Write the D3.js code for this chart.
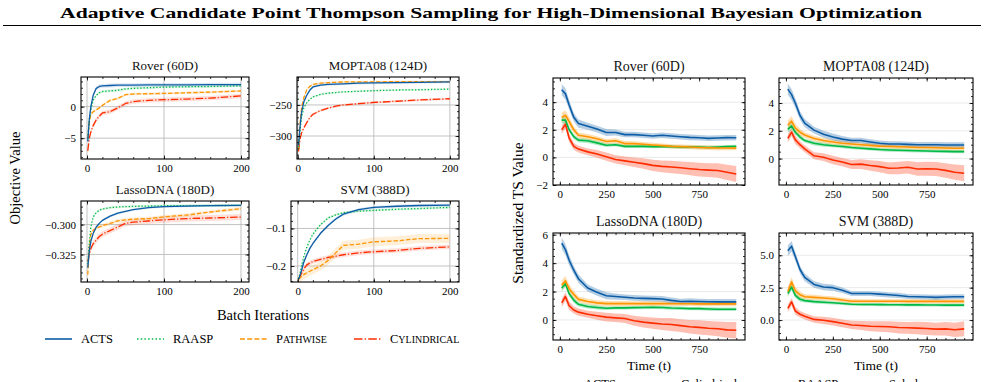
<!doctype html>
<html lang="en">
<head>
<meta charset="utf-8">
<title>Adaptive Candidate Point Thompson Sampling</title>
<script src="https://cdn.jsdelivr.net/npm/d3@7"></script>
<style>
    body { margin: 0; background: #fff; }
    svg, svg text { font-family: "Liberation Serif", "DejaVu Serif", serif; }
</style>
</head>
<body>
<svg></svg>
<script>
var width = 984, height = 382;

// ---- left block: objective value vs batch iterations ----
var leftIters = [1, 3, 5, 8, 12, 16, 20, 30, 40, 50, 60, 80, 100, 130, 160, 200];

var roverActs     = [-5.5, -2.0, 0.0, 1.8, 2.9, 3.2, 3.3, 3.35, 3.4, 3.4, 3.4, 3.45, 3.45, 3.45, 3.5, 3.5];
var roverRaasp    = [-5.0, -2.0, -0.5, 1.0, 1.8, 2.2, 2.4, 2.5, 2.6, 2.8, 2.9, 3.0, 3.1, 3.15, 3.2, 3.3];
var roverPathwise = [-5.0, -2.5, -1.2, -0.8, -0.5, -0.2, 0.2, 1.0, 1.3, 1.9, 2.0, 2.05, 2.1, 2.2, 2.3, 2.5];
var roverCyl      = [-7.0, -5.0, -4.0, -3.0, -2.1, -1.5, -1.0, -0.8, -0.2, 0.5, 0.8, 1.0, 1.1, 1.2, 1.35, 1.7];

var moptaActs     = [-315, -285, -262, -245, -234, -226, -221, -218, -217, -216.5, -216, -215, -214.5, -214, -213.5, -213];
var moptaRaasp    = [-318, -290, -270, -255, -246, -241, -237, -233, -231, -230, -229, -228, -227, -226, -225.5, -224.5];
var moptaPathwise = [-322, -280, -255, -238, -225, -220, -217, -215, -214, -213.5, -213, -213, -212.8, -212.6, -212.5, -212.5];
var moptaCyl      = [-325, -305, -295, -287, -278, -270, -265, -259, -255, -252, -250, -248, -246, -244, -242, -240];

var lassoActs     = [-0.336, -0.322, -0.314, -0.3075, -0.302, -0.299, -0.2965, -0.293, -0.2905, -0.289, -0.2875, -0.2858, -0.285, -0.2845, -0.2842, -0.284];
var lassoRaasp    = [-0.333, -0.315, -0.302, -0.2937, -0.290, -0.288, -0.287, -0.2858, -0.2853, -0.285, -0.2848, -0.2845, -0.2843, -0.2842, -0.2841, -0.284];
var lassoPathwise = [-0.342, -0.318, -0.308, -0.3048, -0.303, -0.302, -0.301, -0.299, -0.297, -0.296, -0.2955, -0.295, -0.2935, -0.292, -0.2895, -0.2867];
var lassoCyl      = [-0.331, -0.325, -0.320, -0.316, -0.313, -0.310, -0.308, -0.305, -0.302, -0.299, -0.298, -0.297, -0.296, -0.295, -0.2945, -0.2937];

var svmActs     = [-0.235, -0.225, -0.212, -0.19, -0.17, -0.153, -0.14, -0.113, -0.092, -0.075, -0.062, -0.05, -0.044, -0.041, -0.039, -0.038];
var svmRaasp    = [-0.235, -0.22, -0.2, -0.175, -0.15, -0.131, -0.115, -0.09, -0.072, -0.064, -0.058, -0.054, -0.052, -0.049, -0.047, -0.044];
var svmPathwise = [-0.235, -0.232, -0.228, -0.223, -0.218, -0.214, -0.21, -0.2, -0.185, -0.165, -0.145, -0.142, -0.1355, -0.133, -0.127, -0.1265];
var svmCyl      = [-0.235, -0.228, -0.22, -0.208, -0.197, -0.192, -0.188, -0.182, -0.177, -0.174, -0.17, -0.165, -0.162, -0.159, -0.153, -0.149];

// band half-widths per series (ACTS, RAASP, Pathwise, Cylindrical)
var roverBand = [0.3, 0.2, 0.2, 0.35];
var moptaBand = [2, 1.5, 1.5, 2];
var lassoBand = [0.001, 0.001, 0.0015, 0.0025];
var svmBand   = [0.004, 0.003, 0.012, 0.006];

// ---- right block: standardized TS value vs time ----
var rightTimes = [10, 30, 50, 75, 100, 150, 200, 250, 300, 350, 400, 450, 500, 550, 600, 650, 700, 750, 800, 850, 900, 950];

var rRoverActs  = [4.9, 4.6, 3.8, 2.9, 2.45, 2.25, 2.05, 1.8, 1.8, 1.65, 1.65, 1.6, 1.55, 1.6, 1.55, 1.5, 1.45, 1.42, 1.38, 1.4, 1.43, 1.42];
var rRoverCyl   = [2.0, 2.4, 1.4, 0.8, 0.6, 0.4, 0.25, 0.05, -0.15, -0.25, -0.35, -0.45, -0.58, -0.65, -0.7, -0.75, -0.82, -0.88, -0.92, -0.95, -1.08, -1.2];
var rRoverRaasp = [2.7, 2.7, 2.0, 1.5, 1.25, 1.2, 1.05, 0.88, 0.92, 0.8, 0.8, 0.8, 0.78, 0.8, 0.78, 0.75, 0.75, 0.75, 0.72, 0.75, 0.78, 0.8];
var rRoverSobol = [2.9, 3.05, 2.6, 2.0, 1.6, 1.5, 1.35, 1.15, 1.2, 1.0, 1.0, 0.95, 0.9, 0.85, 0.8, 0.78, 0.75, 0.72, 0.7, 0.68, 0.68, 0.67];

var rMoptaActs  = [5.0, 4.6, 4.0, 3.1, 2.55, 2.05, 1.75, 1.55, 1.4, 1.3, 1.3, 1.2, 1.1, 1.05, 1.05, 1.02, 1.0, 1.0, 1.0, 0.98, 0.98, 0.98];
var rMoptaCyl   = [1.45, 1.9, 1.35, 1.0, 0.7, 0.2, 0.1, -0.1, -0.25, -0.42, -0.4, -0.5, -0.58, -0.7, -0.68, -0.62, -0.75, -0.73, -0.75, -0.85, -0.98, -1.05];
var rMoptaRaasp = [2.1, 2.35, 1.9, 1.55, 1.3, 1.1, 1.0, 0.93, 0.87, 0.8, 0.75, 0.7, 0.65, 0.62, 0.6, 0.58, 0.56, 0.55, 0.53, 0.52, 0.5, 0.5];
var rMoptaSobol = [2.4, 2.7, 2.2, 1.9, 1.7, 1.45, 1.3, 1.2, 1.1, 1.05, 1.0, 0.95, 0.9, 0.88, 0.85, 0.83, 0.8, 0.8, 0.78, 0.76, 0.75, 0.75];

var rLassoActs  = [5.4, 4.95, 4.2, 3.5, 2.9, 2.25, 1.95, 1.7, 1.65, 1.6, 1.55, 1.52, 1.5, 1.48, 1.38, 1.3, 1.32, 1.3, 1.28, 1.27, 1.27, 1.27];
var rLassoCyl   = [1.2, 1.65, 1.0, 0.7, 0.55, 0.4, 0.3, 0.2, 0.15, 0.1, -0.05, -0.15, -0.22, -0.28, -0.32, -0.4, -0.48, -0.52, -0.58, -0.62, -0.7, -0.72];
var rLassoRaasp = [2.25, 2.55, 1.85, 1.4, 1.1, 0.95, 0.88, 0.82, 0.85, 0.85, 0.87, 0.88, 0.9, 0.88, 0.84, 0.82, 0.8, 0.8, 0.77, 0.75, 0.75, 0.75];
var rLassoSobol = [2.45, 2.75, 2.2, 1.8, 1.45, 1.3, 1.2, 1.15, 1.15, 1.15, 1.15, 1.15, 1.15, 1.15, 1.14, 1.14, 1.14, 1.13, 1.13, 1.13, 1.13, 1.13];

var rSvmActs  = [5.35, 5.7, 4.9, 3.9, 3.3, 2.75, 2.55, 2.5, 2.3, 2.05, 2.05, 2.05, 2.0, 1.95, 1.9, 1.82, 1.8, 1.78, 1.75, 1.78, 1.8, 1.8];
var rSvmCyl   = [0.9, 1.4, 0.7, 0.45, 0.3, 0.05, -0.02, -0.12, -0.25, -0.38, -0.42, -0.48, -0.5, -0.52, -0.58, -0.6, -0.62, -0.65, -0.7, -0.68, -0.75, -0.68];
var rSvmRaasp = [2.05, 2.55, 1.9, 1.6, 1.5, 1.42, 1.38, 1.33, 1.28, 1.22, 1.2, 1.2, 1.19, 1.18, 1.18, 1.17, 1.17, 1.16, 1.16, 1.15, 1.15, 1.15];
var rSvmSobol = [2.2, 2.95, 2.25, 1.95, 1.8, 1.75, 1.7, 1.65, 1.55, 1.45, 1.45, 1.45, 1.45, 1.45, 1.45, 1.44, 1.44, 1.44, 1.44, 1.44, 1.44, 1.44];

// band half-widths (shared by the four right panels)
var bandActs  = [0.4, 0.4, 0.35, 0.3, 0.3, 0.25, 0.25, 0.25, 0.22, 0.2, 0.2, 0.2, 0.2, 0.2, 0.2, 0.2, 0.2, 0.2, 0.2, 0.2, 0.2, 0.2];
var bandCyl   = [0.3, 0.3, 0.3, 0.25, 0.25, 0.25, 0.28, 0.3, 0.3, 0.32, 0.35, 0.38, 0.4, 0.42, 0.45, 0.45, 0.48, 0.5, 0.5, 0.52, 0.55, 0.58];
var bandRaasp = [0.25, 0.25, 0.2, 0.18, 0.15, 0.15, 0.15, 0.12, 0.12, 0.12, 0.12, 0.12, 0.12, 0.12, 0.12, 0.12, 0.12, 0.12, 0.12, 0.12, 0.12, 0.12];
var bandSobol = [0.35, 0.35, 0.3, 0.25, 0.2, 0.2, 0.18, 0.18, 0.18, 0.18, 0.16, 0.16, 0.16, 0.16, 0.16, 0.16, 0.16, 0.16, 0.16, 0.16, 0.16, 0.16];

var cBlue = '#0C5DA5', cGreen = '#00B945', cOrange = '#FF9500', cRed = '#FF2C00';
var serif = '"Liberation Serif", "DejaVu Serif", serif';

var svg = d3.select('svg').attr('width', width).attr('height', height).attr('font-family', serif);

function minorTicks(domain, step) {
    var out = [];
    var start = Math.ceil(domain[0] / step - 1e-9);
    for (var k = start; k * step <= domain[1] + 1e-9; k++) out.push(+(k * step).toFixed(6));
    return out;
}

function styleAxis(sel) {
    sel.attr('font-family', serif).attr('font-size', 11).attr('color', '#000');
    sel.select('.domain').remove();
    sel.selectAll('line').attr('stroke-width', 0.8);
}

function drawPanel(p) {
    var x0 = p.box[0], y0 = p.box[1], x1 = p.box[2], y1 = p.box[3];
    var xScale = d3.scaleLinear().domain(p.xDomain).range([x0, x1]);
    var yScale = d3.scaleLinear().domain(p.yDomain).range([y1, y0]);
    var g = svg.append('g');

    svg.append('clipPath').attr('id', 'clip-' + p.id)
        .append('rect').attr('x', x0).attr('y', y0).attr('width', x1 - x0).attr('height', y1 - y0);

    // grid
    if (p.gridX) {
        g.selectAll('.gx').data(p.xTicks).enter().append('line')
            .attr('x1', function (d) { return xScale(d); }).attr('x2', function (d) { return xScale(d); })
            .attr('y1', y0).attr('y2', y1)
            .attr('stroke', p.gridColor).attr('stroke-width', 0.8);
    }
    g.selectAll('.gy').data(p.yTicks).enter().append('line')
        .attr('x1', x0).attr('x2', x1)
        .attr('y1', function (d) { return yScale(d); }).attr('y2', function (d) { return yScale(d); })
        .attr('stroke', p.gridColor).attr('stroke-width', 0.8);

    var plot = g.append('g').attr('clip-path', 'url(#clip-' + p.id + ')');

    p.series.forEach(function (s) {
        var pts = s.xs.map(function (t, i) { return [t, s.ys[i], s.err[i]]; });
        var area = d3.area()
            .x(function (d) { return xScale(d[0]); })
            .y0(function (d) { return yScale(d[1] - d[2]); })
            .y1(function (d) { return yScale(d[1] + d[2]); });
        plot.append('path').datum(pts).attr('d', area)
            .attr('fill', s.color).attr('fill-opacity', p.bandOpacity).attr('stroke', 'none');
    });
    p.series.forEach(function (s) {
        var pts = s.xs.map(function (t, i) { return [t, s.ys[i]]; });
        var line = d3.line()
            .x(function (d) { return xScale(d[0]); })
            .y(function (d) { return yScale(d[1]); });
        plot.append('path').datum(pts).attr('d', line)
            .attr('fill', 'none').attr('stroke', s.color)
            .attr('stroke-width', p.lineWidth)
            .attr('stroke-dasharray', s.dash || null)
            .attr('stroke-linejoin', 'round');
    });

    // axes: ticks inside on all four sides
    var xMinor = minorTicks(p.xDomain, p.xMinorStep);
    var yMinor = minorTicks(p.yDomain, p.yMinorStep);

    g.append('g').attr('transform', 'translate(0,' + y1 + ')')
        .call(d3.axisBottom(xScale).tickValues(p.xTicks).tickSizeInner(-3.5).tickSizeOuter(0).tickPadding(5).tickFormat(d3.format('d')))
        .call(styleAxis);
    g.append('g').attr('transform', 'translate(0,' + y1 + ')')
        .call(d3.axisBottom(xScale).tickValues(xMinor).tickSizeInner(-2).tickSizeOuter(0).tickFormat(''))
        .call(styleAxis);
    g.append('g').attr('transform', 'translate(0,' + y0 + ')')
        .call(d3.axisTop(xScale).tickValues(p.xTicks).tickSizeInner(-3.5).tickSizeOuter(0).tickFormat(''))
        .call(styleAxis);
    g.append('g').attr('transform', 'translate(0,' + y0 + ')')
        .call(d3.axisTop(xScale).tickValues(xMinor).tickSizeInner(-2).tickSizeOuter(0).tickFormat(''))
        .call(styleAxis);

    g.append('g').attr('transform', 'translate(' + x0 + ',0)')
        .call(d3.axisLeft(yScale).tickValues(p.yTicks).tickSizeInner(-3.5).tickSizeOuter(0).tickPadding(5).tickFormat(p.yFormat))
        .call(styleAxis);
    g.append('g').attr('transform', 'translate(' + x0 + ',0)')
        .call(d3.axisLeft(yScale).tickValues(yMinor).tickSizeInner(-2).tickSizeOuter(0).tickFormat(''))
        .call(styleAxis);
    g.append('g').attr('transform', 'translate(' + x1 + ',0)')
        .call(d3.axisRight(yScale).tickValues(p.yTicks).tickSizeInner(-3.5).tickSizeOuter(0).tickFormat(''))
        .call(styleAxis);
    g.append('g').attr('transform', 'translate(' + x1 + ',0)')
        .call(d3.axisRight(yScale).tickValues(yMinor).tickSizeInner(-2).tickSizeOuter(0).tickFormat(''))
        .call(styleAxis);

    g.append('rect').attr('x', x0).attr('y', y0).attr('width', x1 - x0).attr('height', y1 - y0)
        .attr('fill', 'none').attr('stroke', '#000').attr('stroke-width', 1.1);

    g.append('text').attr('x', (x0 + x1) / 2).attr('y', y0 - 7)
        .attr('text-anchor', 'middle').attr('font-size', p.titleSize).attr('fill', '#111')
        .attr('font-family', serif)
        .text(p.title);
}

function fill(n, v) { return d3.range(n).map(function () { return v; }); }

function leftSeries(acts, raasp, pathwise, cyl, band) {
    var n = leftIters.length;
    return [
        { xs: leftIters, ys: cyl, err: fill(n, band[3]), color: cRed, dash: '7.5,1.9,1.2,1.9' },
        { xs: leftIters, ys: pathwise, err: fill(n, band[2]), color: cOrange, dash: '4.4,1.9' },
        { xs: leftIters, ys: raasp, err: fill(n, band[1]), color: cGreen, dash: '1.3,1.9' },
        { xs: leftIters, ys: acts, err: fill(n, band[0]), color: cBlue }
    ];
}

function rightSeries(acts, cyl, raasp, sobol) {
    return [
        { xs: rightTimes, ys: cyl, err: bandCyl, color: cRed },
        { xs: rightTimes, ys: raasp, err: bandRaasp, color: cGreen },
        { xs: rightTimes, ys: sobol, err: bandSobol, color: cOrange },
        { xs: rightTimes, ys: acts, err: bandActs, color: cBlue }
    ];
}

var leftCommon = { gridX: true, gridColor: '#b4b4b4', bandOpacity: 0.15, lineWidth: 1.3, titleSize: 13, xTicks: [0, 100, 200], xMinorStep: 20 };
var rightCommon = { gridX: false, gridColor: '#e4e4e4', bandOpacity: 0.3, lineWidth: 1.6, titleSize: 14, xTicks: [0, 250, 500, 750], xMinorStep: 50, xDomain: [-37, 997] };

drawPanel(Object.assign({}, leftCommon, {
    id: 'l1', title: 'Rover (60D)', box: [81, 77, 249, 159],
    xDomain: [-7.8, 210.4], yDomain: [-8.3, 4.7], yTicks: [-5, 0], yMinorStep: 1, yFormat: d3.format('d'),
    series: leftSeries(roverActs, roverRaasp, roverPathwise, roverCyl, roverBand)
}));
drawPanel(Object.assign({}, leftCommon, {
    id: 'l2', title: 'MOPTA08 (124D)', box: [297, 77, 459, 159],
    xDomain: [-1, 212], yDomain: [-337, -205], yTicks: [-300, -250], yMinorStep: 10, yFormat: d3.format('d'),
    series: leftSeries(moptaActs, moptaRaasp, moptaPathwise, moptaCyl, moptaBand)
}));
drawPanel(Object.assign({}, leftCommon, {
    id: 'l3', title: 'LassoDNA (180D)', box: [81, 201, 249, 282],
    xDomain: [-7.8, 210.4], yDomain: [-0.348, -0.2803], yTicks: [-0.325, -0.300], yMinorStep: 0.005, yFormat: d3.format('.3f'),
    series: leftSeries(lassoActs, lassoRaasp, lassoPathwise, lassoCyl, lassoBand)
}));
drawPanel(Object.assign({}, leftCommon, {
    id: 'l4', title: 'SVM (388D)', box: [291, 201, 459, 282],
    xDomain: [-8.8, 212], yDomain: [-0.2425, -0.027], yTicks: [-0.2, -0.1], yMinorStep: 0.02, yFormat: d3.format('.1f'),
    series: leftSeries(svmActs, svmRaasp, svmPathwise, svmCyl, svmBand)
}));

drawPanel(Object.assign({}, rightCommon, {
    id: 'r1', title: 'Rover (60D)', box: [553, 78, 745, 185],
    yDomain: [-2.0, 5.75], yTicks: [-2, 0, 2, 4], yMinorStep: 0.5, yFormat: d3.format('d'),
    series: rightSeries(rRoverActs, rRoverCyl, rRoverRaasp, rRoverSobol)
}));
drawPanel(Object.assign({}, rightCommon, {
    id: 'r2', title: 'MOPTA08 (124D)', box: [779, 78, 973, 185],
    yDomain: [-1.9, 5.8], yTicks: [0, 2, 4], yMinorStep: 0.5, yFormat: d3.format('d'),
    series: rightSeries(rMoptaActs, rMoptaCyl, rMoptaRaasp, rMoptaSobol)
}));
drawPanel(Object.assign({}, rightCommon, {
    id: 'r3', title: 'LassoDNA (180D)', box: [553, 233, 745, 340],
    yDomain: [-1.41, 6.12], yTicks: [0, 2, 4, 6], yMinorStep: 0.5, yFormat: d3.format('d'),
    series: rightSeries(rLassoActs, rLassoCyl, rLassoRaasp, rLassoSobol)
}));
drawPanel(Object.assign({}, rightCommon, {
    id: 'r4', title: 'SVM (388D)', box: [779, 233, 973, 340],
    yDomain: [-1.54, 6.72], yTicks: [0, 2.5, 5], yMinorStep: 0.5, yFormat: d3.format('.1f'),
    series: rightSeries(rSvmActs, rSvmCyl, rSvmRaasp, rSvmSobol)
}));

// figure title and rule
svg.append('text').attr('x', 60).attr('y', 18)
    .attr('font-size', 15).attr('font-weight', 'bold')
    .attr('textLength', 862).attr('lengthAdjust', 'spacingAndGlyphs')
    .text('Adaptive Candidate Point Thompson Sampling for High-Dimensional Bayesian Optimization');
svg.append('line').attr('x1', 3).attr('x2', 981).attr('y1', 25.5).attr('y2', 25.5)
    .attr('stroke', '#000').attr('stroke-width', 1);

// axis labels
svg.append('text').attr('transform', 'translate(20,178) rotate(-90)')
    .attr('text-anchor', 'middle').attr('font-size', 14.5).text('Objective Value');
svg.append('text').attr('x', 263).attr('y', 320)
    .attr('text-anchor', 'middle').attr('font-size', 14.5).text('Batch Iterations');
svg.append('text').attr('transform', 'translate(523,213) rotate(-90)')
    .attr('text-anchor', 'middle').attr('font-size', 15.5).text('Standardized TS Value');
svg.append('text').attr('x', 649).attr('y', 370)
    .attr('text-anchor', 'middle').attr('font-size', 13.5).text('Time (t)');
svg.append('text').attr('x', 876).attr('y', 370)
    .attr('text-anchor', 'middle').attr('font-size', 13.5).text('Time (t)');

// left legend
var leftLegend = [
    { big: 'ACTS', small: '', color: cBlue, dash: null, x: 45 },
    { big: 'RAASP', small: '', color: cGreen, dash: '1.5,2.2', x: 137 },
    { big: 'P', small: 'ATHWISE', color: cOrange, dash: '5,2.2', x: 240 },
    { big: 'C', small: 'YLINDRICAL', color: cRed, dash: '8.5,2.2,1.4,2.2', x: 354 }
];
var lg = svg.append('g').selectAll('g').data(leftLegend).enter().append('g');
lg.append('line').attr('x1', function (d) { return d.x; }).attr('x2', function (d) { return d.x + 27; })
    .attr('y1', 339).attr('y2', 339)
    .attr('stroke', function (d) { return d.color; }).attr('stroke-width', 1.6)
    .attr('stroke-dasharray', function (d) { return d.dash; });
var lt = lg.append('text').attr('x', function (d) { return d.x + 36; }).attr('y', 343).attr('font-size', 12.5);
lt.append('tspan').text(function (d) { return d.big; });
lt.append('tspan').attr('font-size', 10).text(function (d) { return d.small; });

// right legend (sits at the bottom edge, mostly outside the visible area as in the source figure)
var rightLegend = [
    { label: 'ACTS', color: cBlue, x: 548 },
    { label: 'Cylindrical', color: cRed, x: 645 },
    { label: 'RAASP', color: cGreen, x: 762 },
    { label: 'Sobol', color: cOrange, x: 853 }
];
var rg = svg.append('g').selectAll('g').data(rightLegend).enter().append('g');
rg.append('line').attr('x1', function (d) { return d.x; }).attr('x2', function (d) { return d.x + 27; })
    .attr('y1', 384).attr('y2', 384)
    .attr('stroke', function (d) { return d.color; }).attr('stroke-width', 1.6);
rg.append('text').attr('x', function (d) { return d.x + 36; }).attr('y', 388).attr('font-size', 12.5)
    .text(function (d) { return d.label; });
</script>
</body>
</html>
